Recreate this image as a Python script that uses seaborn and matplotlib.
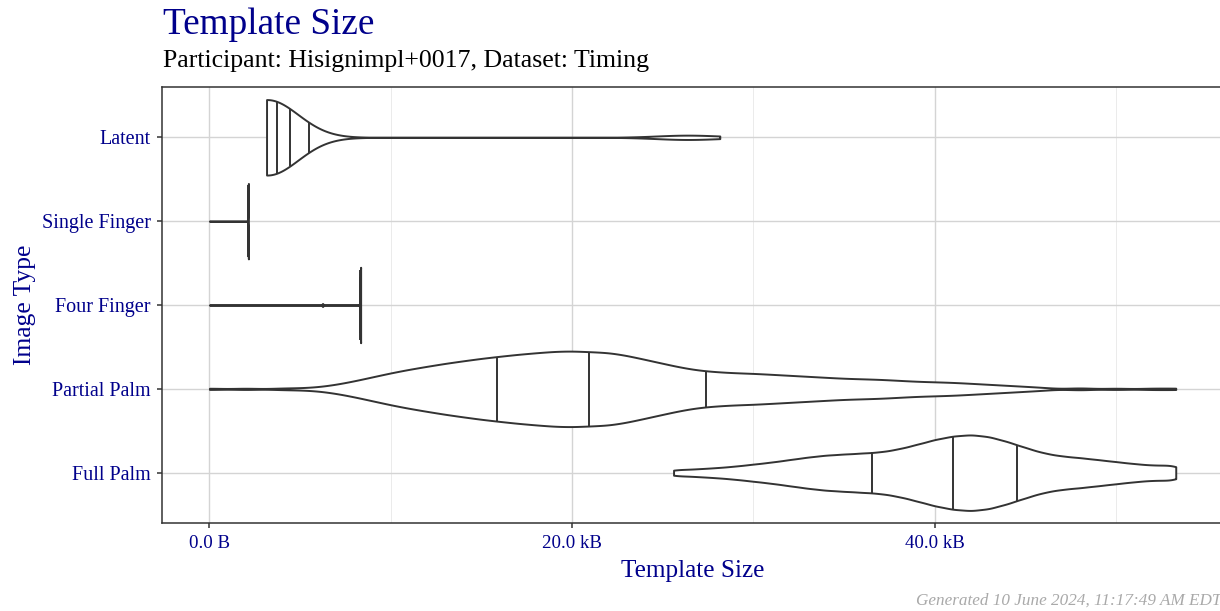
import numpy as np
import pandas as pd
import seaborn as sns
import matplotlib.pyplot as plt
from matplotlib.ticker import FixedLocator, FuncFormatter

# image types, top to bottom
image_types = ["Latent", "Single Finger", "Four Finger", "Partial Palm", "Full Palm"]

# template sizes (kB) and number of templates at each size
latent_kb = [3.15, 3.6, 26.3, 28.15]
latent_n = [190, 12, 11, 1]

single_kb = [0.0, 2.15]
single_n = [1, 250]

four_kb = [0.0, 6.24, 8.34]
four_n = [1, 10, 250]

partial_kb = [0, 2, 4, 5, 6, 7, 8, 9, 10, 11, 12, 13, 14, 15, 16, 17, 18, 19, 20,
              21, 22, 23, 24, 25, 26, 27, 28, 29, 30, 31, 32, 33, 34, 35, 36, 37,
              38, 39, 40, 41, 42, 43, 44, 45, 46, 48, 50, 52, 53.3]
partial_n = [2, 2, 2, 2, 4, 9, 16, 24, 32, 39, 45, 51, 56, 61, 65, 69, 72, 75, 76,
             74, 73, 67, 59, 51, 43, 37, 34, 32, 31, 29, 27, 25, 23, 21, 20, 19,
             17, 15, 14, 13, 11, 9, 7, 5, 3, 3, 2, 2, 2]

full_kb = [25.6, 26, 27, 28, 29, 30, 31, 32, 33, 34, 35, 36, 37, 38, 39, 40,
           41, 42, 43, 44, 45, 46, 47, 48, 49, 50, 51, 52, 53, 53.3]
full_n = [3, 5, 8, 10, 13, 17, 21, 26, 31, 35, 37, 39, 41, 47, 56, 66,
          73, 76, 72, 62, 50, 39, 33, 30, 26, 22, 18, 15, 13, 5]

# kde bandwidth per image type (kB)
bandwidths = [1.7, 0.02, 0.025, 0.7, 0.6]

groups = [(latent_kb, latent_n), (single_kb, single_n), (four_kb, four_n),
          (partial_kb, partial_n), (full_kb, full_n)]
frames = []
for name, (kb, n) in zip(image_types, groups):
    frames.append(pd.DataFrame({"image_type": name, "size_kb": np.repeat(kb, n)}))
df = pd.concat(frames, ignore_index=True)

sns.set_theme(style="white")
plt.rcParams["font.family"] = ["Liberation Serif", "DejaVu Serif"]

blue = "#00008B"
dark = "#333333"

fig = plt.figure(figsize=(12.2, 6.11), dpi=100)
ax = fig.add_axes([0.13303, 0.14403, 0.87082, 0.71358])

for i, (name, bw) in enumerate(zip(image_types, bandwidths)):
    sub = df[df["image_type"] == name]
    sns.violinplot(data=sub, x="size_kb", y="image_type", order=image_types, orient="y",
                   density_norm="width", cut=0, width=0.9, gridsize=800, inner=None,
                   bw_method=lambda k, b=bw: b / k.dataset.std(ddof=1),
                   color="white", linecolor=dark, linewidth=1.4, ax=ax)
    # quartiles taken from the density, like ggplot's draw_quantiles
    verts = ax.collections[-1].get_paths()[0].vertices
    half = verts[verts[:, 1] <= i + 1e-9]
    half = half[np.argsort(half[:, 0], kind="stable")]
    xs, idx = np.unique(half[:, 0], return_index=True)
    hw = i - half[idx, 1]
    area = np.concatenate([[0], np.cumsum(np.diff(xs) * (hw[1:] + hw[:-1]) / 2)])
    qs = np.interp(np.array([0.25, 0.5, 0.75]) * area[-1], area, xs)
    for q in qs:
        h = np.interp(q, xs, hw)
        ax.plot([q, q], [i - h, i + h], color=dark, lw=1.4, solid_capstyle="butt")

ax.set_xlim(-2.6, 56.0)
ax.set_ylim(4.6, -0.6)
ax.xaxis.set_major_locator(FixedLocator([0, 20, 40]))
ax.xaxis.set_minor_locator(FixedLocator([10, 30, 50]))
ax.xaxis.set_major_formatter(FuncFormatter(lambda v, p: "0.0 B" if v == 0 else f"{v:.1f} kB"))

ax.set_axisbelow(True)
ax.grid(which="major", color="#D4D4D4", lw=1.0)
ax.grid(which="minor", axis="x", color="#EBEBEB", lw=0.7)
ax.yaxis.grid(True, color="#D4D4D4", lw=1.0)

for s in ax.spines.values():
    s.set_color(dark)
    s.set_linewidth(1.1)

ax.tick_params(axis="both", which="major", length=3.6, width=1.1, color=dark,
               labelcolor=blue, left=True, bottom=True)
ax.tick_params(axis="x", which="minor", length=0)
ax.tick_params(axis="x", labelsize=13.6, pad=5)
ax.tick_params(axis="y", labelsize=14.5, pad=4.7)

ax.set_xlabel("Template Size", fontsize=18.2, color=blue)
ax.xaxis.set_label_coords(692.6 / 1220, 1 - 577 / 611, transform=fig.transFigure)
ax.xaxis.label.set_verticalalignment("baseline")
ax.set_ylabel("Image Type", fontsize=18.4, color=blue)
ax.yaxis.set_label_coords(31 / 1220, 1 - 305 / 611, transform=fig.transFigure)
ax.yaxis.label.set_verticalalignment("baseline")

fig.text(163 / 1220, 1 - 34.3 / 611, "Template Size", fontsize=26.8, color=blue,
         ha="left", va="baseline")
fig.text(163 / 1220, 1 - 66.7 / 611, "Participant: Hisignimpl+0017, Dataset: Timing",
         fontsize=18.6, color="black", ha="left", va="baseline")
fig.text(1221 / 1220, 1 - 605 / 611, "Generated 10 June 2024, 11:17:49 AM EDT",
         fontsize=12.3, style="italic", color="#A9A9A9", ha="right", va="baseline")

fig.savefig("out.png", dpi=100)
